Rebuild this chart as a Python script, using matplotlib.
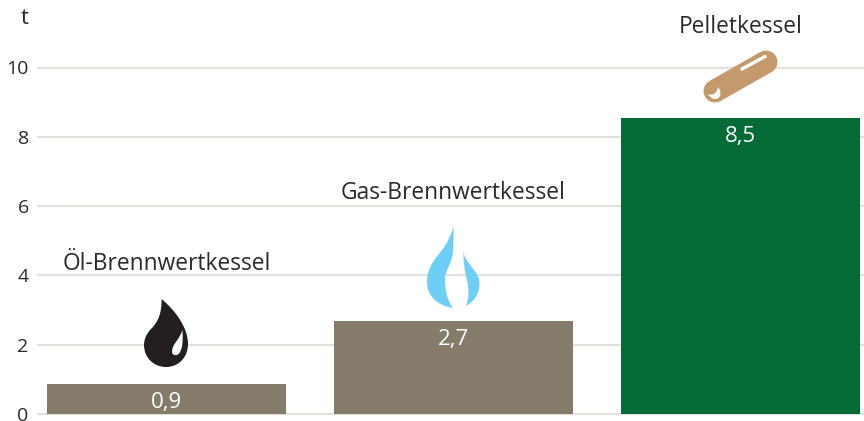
import matplotlib
matplotlib.use("Agg")
import matplotlib.pyplot as plt
from matplotlib.path import Path
from matplotlib.patches import PathPatch

categories = ["Öl-Brennwertkessel", "Gas-Brennwertkessel", "Pelletkessel"]
values = [0.87, 2.68, 8.54]
value_labels = ["0,9", "2,7", "8,5"]
yticks = [0, 2, 4, 6, 8, 10]
unit = "t"

GREY, GREEN = "#847b6b", "#046a38"
bar_colors = [GREY, GREY, GREEN]
GRID, TEXT = "#e2e0db", "#2b2a29"
FONT = "Open Sans"
W, H = 864, 421
plt.rcParams["font.family"] = FONT

fig = plt.figure(figsize=(W / 100, H / 100), dpi=100)
ax = fig.add_axes([37 / W, 0, (W - 37) / W, 1])
ax.set_xlim((37 - 166.5) / 287, (864 - 166.5) / 287)
ax.set_ylim(-7 / 34.65, 414 / 34.65)
for s in ax.spines.values():
    s.set_visible(False)
ax.set_xticks([])
ax.set_yticks(yticks)
ax.set_yticklabels([str(t) for t in yticks], fontsize=14, color=TEXT, va="center_baseline")
ax.tick_params(axis="y", length=0, pad=6)
ax.grid(axis="y", color=GRID, lw=1.5, zorder=0)
ax.set_axisbelow(True)
xs = range(len(values))
ax.bar(xs, values, width=239 / 287, color=bar_colors, zorder=2)

title_offsets = [-120, -128, -91]
for x, v, lab, cat, off in zip(xs, values, value_labels, categories, title_offsets):
    ax.annotate(lab, (x, v), xytext=(0, -18.5 * 0.72), textcoords="offset points",
                ha="center", va="center", color="white", fontsize=16, zorder=3)
    ax.annotate(cat, (x, v), xytext=(0, -off * 0.72), textcoords="offset points",
                ha="center", va="center", color=TEXT, fontsize=16.4, zorder=3)
fig.text(25 / W, 1 - 18 / H, unit, ha="center", va="center", color=TEXT, fontsize=16)

# Decorative icons, in pixel coordinates of the figure
ov = fig.add_axes([0, 0, 1, 1], facecolor="none")
ov.set_xlim(0, W)
ov.set_ylim(H, 0)
ov.axis("off")

def shape(points, color, **kw):
    verts, codes = [points[0]], [Path.MOVETO]
    for c1, c2, p in points[1:]:
        verts += [c1, c2, p]
        codes += [Path.CURVE4] * 3
    verts.append(points[0]); codes.append(Path.CLOSEPOLY)
    ov.add_patch(PathPatch(Path(verts, codes), fc=color, ec="none", **kw))

# oil drop
shape([(161.5, 299),
       ((162, 313), (158, 322), (151, 329)),
       ((146, 334), (144, 340), (144, 345)),
       ((144, 358), (154, 367), (166, 367)),
       ((179, 367), (188, 357), (188, 344)),
       ((188, 328), (176, 311), (161.5, 299))], "#231f20", zorder=5)
shape([(182.5, 330),
       ((183, 340), (183, 352), (177, 355)),
       ((172, 356), (171, 352), (173, 347)),
       ((175, 342), (180, 338), (182.5, 330))], "white", zorder=6)

# flame
shape([(453.5, 226.5),
       ((451, 236), (447, 243), (442, 250)),
       ((437, 257), (427, 266), (427, 282)),
       ((427, 298), (440, 306), (453, 308)),
       ((447, 300), (445, 290), (445, 279)),
       ((445, 270), (452, 264), (453, 252)),
       ((453.5, 245), (453.5, 235), (453.5, 226.5))], "#6dcff6", zorder=5)
shape([(463.5, 251),
       ((464, 259), (469, 263), (474, 270)),
       ((478, 275), (479.5, 279), (479.5, 283)),
       ((479.5, 295), (473, 302), (466, 306)),
       ((469, 298), (469, 290), (467.5, 282)),
       ((465, 273), (463, 262), (463.5, 251))], "#6dcff6", zorder=5)

# pellet
ov.plot([715, 766], [91, 62], color="#c49a6c", lw=23 * 0.72, solid_capstyle="round", zorder=5)
ov.plot([742, 765], [69, 56.5], color="white", lw=3.4 * 0.72, solid_capstyle="round", zorder=6)
shape([(708, 94),
       ((713, 96), (717, 93), (718, 87)),
       ((723, 93), (720, 101), (713, 98.5)),
       ((711, 98), (709, 96), (708, 94))], "white", zorder=6)

fig.savefig("out.png", dpi=100)
